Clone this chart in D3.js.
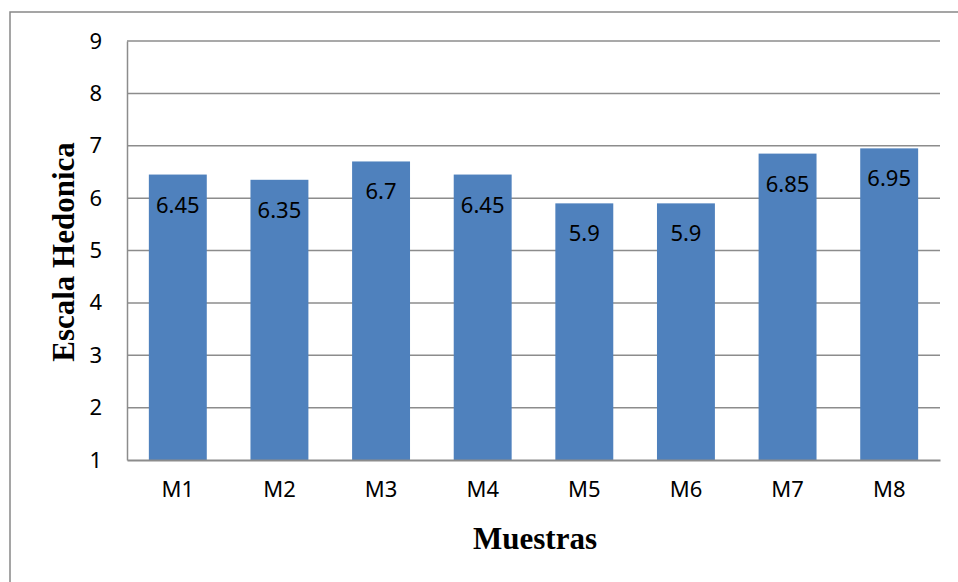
<!doctype html>
<meta charset=utf8>
<title>Escala Hedonica</title>
<style>
  body { margin: 0; background: white; }
  svg { display: block; }
  .tick text { font-family: "Noto Sans", sans-serif; font-size: 22px; fill: black; }
</style>
<svg width=958 height=582></svg>
<script src=https://d3js.org/d3.v7.min.js></script>
<script>
  var categories = ['M1', 'M2', 'M3', 'M4', 'M5', 'M6', 'M7', 'M8'];
  var values = [6.45, 6.35, 6.7, 6.45, 5.9, 5.9, 6.85, 6.95];
  var yTicks = [1, 2, 3, 4, 5, 6, 7, 8, 9];

  var svg = d3.select('svg');
  var plotLeft = 127, plotRight = 940, plotTop = 41, plotBottom = 460;

  // outer frame (right and bottom fall off the picture)
  svg.append('rect')
    .attr('x', 10).attr('y', 12)
    .attr('width', 1000).attr('height', 1000)
    .attr('fill', 'none').attr('stroke', '#888').attr('stroke-width', 1.5);

  var x = d3.scaleBand().domain(categories).range([plotLeft, plotRight]).paddingInner(0.43).paddingOuter(0.215);
  var y = d3.scaleLinear().domain([1, 9]).range([plotBottom, plotTop]);

  // gridlines
  svg.append('g').selectAll('line')
    .data(yTicks.slice(1))
    .enter().append('line')
    .attr('x1', plotLeft).attr('x2', plotRight)
    .attr('y1', y).attr('y2', y)
    .attr('stroke', '#8c8c8c').attr('stroke-width', 1.5);

  svg.append('g').selectAll('rect')
    .data(values)
    .enter().append('rect')
    .attr('x', function(d, i) { return x(categories[i]); })
    .attr('width', x.bandwidth())
    .attr('y', y)
    .attr('height', function(d) { return plotBottom - y(d); })
    .attr('fill', '#4f81bd');

  svg.append('g').selectAll('text')
    .data(values)
    .enter().append('text')
    .attr('x', function(d, i) { return x(categories[i]) + x.bandwidth() / 2; })
    .attr('y', function(d) { return y(d) + 38; })
    .attr('text-anchor', 'middle')
    .style('font-family', '"Noto Sans", sans-serif')
    .style('font-size', '22px')
    .text(function(d) { return d; });

  var yAxis = svg.append('g')
    .attr('transform', 'translate(' + plotLeft + ',0)')
    .call(d3.axisLeft(y).tickValues(yTicks).tickSize(0).tickPadding(25).tickFormat(d3.format('d')));
  yAxis.select('.domain').attr('stroke', '#8c8c8c').attr('stroke-width', 1.5);

  var xAxis = svg.append('g')
    .attr('transform', 'translate(0,' + plotBottom + ')')
    .call(d3.axisBottom(x).tickSize(0).tickPadding(21));
  xAxis.select('.domain').attr('stroke', '#8c8c8c').attr('stroke-width', 2);

  svg.append('text')
    .attr('transform', 'translate(74,252) rotate(-90)')
    .attr('text-anchor', 'middle')
    .style('font-family', '"Liberation Serif", "Times New Roman", serif')
    .style('font-weight', 'bold')
    .style('font-size', '31px')
    .text('Escala Hedonica');

  svg.append('text')
    .attr('x', 535).attr('y', 549)
    .attr('text-anchor', 'middle')
    .style('font-family', '"Liberation Serif", "Times New Roman", serif')
    .style('font-weight', 'bold')
    .style('font-size', '31px')
    .text('Muestras');
</script>
